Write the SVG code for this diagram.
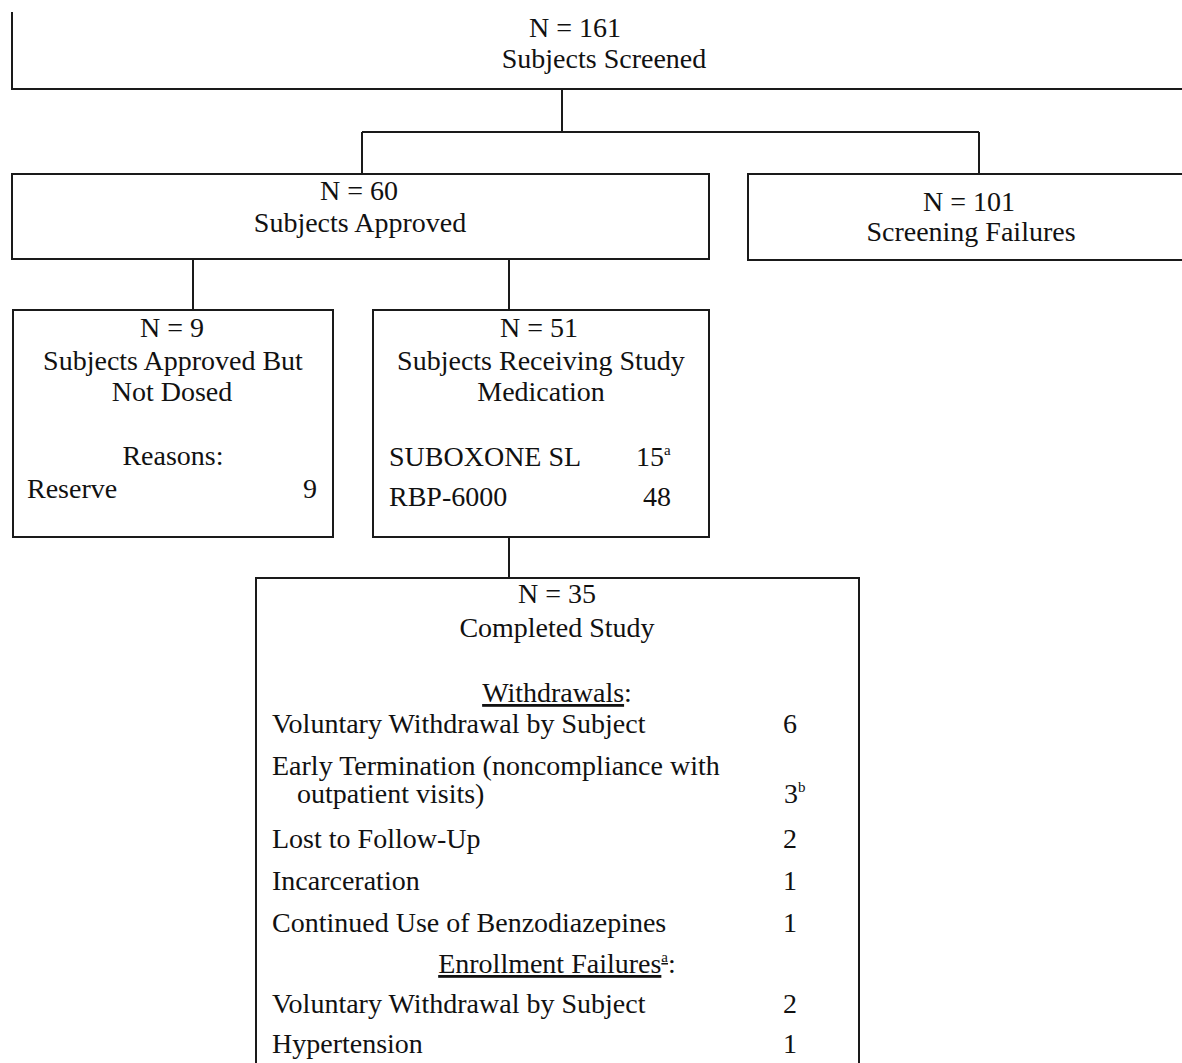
<svg xmlns="http://www.w3.org/2000/svg" width="1182" height="1063" viewBox="0 0 1182 1063">
<style>
.box{fill:none;stroke:#1a1a1a;stroke-width:2}
.ln{fill:none;stroke:#1a1a1a;stroke-width:2}
text{font-family:"Liberation Serif","Times New Roman",serif;font-size:28px;fill:#111}
.c{text-anchor:middle}
.r{text-anchor:end}
.u{text-decoration:underline}
</style>
<rect x="0" y="0" width="1182" height="1063" fill="#ffffff"/>
<g id="screened">
<path class="box" d="M12 12 V89 H1190"/>
<text class="c" x="575" y="37">N = 161</text>
<text class="c" x="604" y="68">Subjects Screened</text>
</g>
<g id="approved">
<rect class="box" x="12" y="174" width="697" height="85"/>
<text class="c" x="359" y="200">N = 60</text>
<text class="c" x="360" y="232">Subjects Approved</text>
</g>
<g id="failures">
<rect class="box" x="748" y="174" width="500" height="86"/>
<text class="c" x="969" y="211">N = 101</text>
<text class="c" x="971" y="241">Screening Failures</text>
</g>
<g id="notdosed">
<rect class="box" x="13" y="310" width="320" height="227"/>
<text class="c" x="172" y="337">N = 9</text>
<text class="c" x="173" y="370">Subjects Approved But</text>
<text class="c" x="172" y="401">Not Dosed</text>
<text class="c" x="173" y="465">Reasons:</text>
<text x="27" y="498">Reserve</text>
<text class="r" x="317" y="498">9</text>
</g>
<g id="receiving">
<rect class="box" x="373" y="310" width="336" height="227"/>
<text class="c" x="539" y="337">N = 51</text>
<text class="c" x="541" y="370">Subjects Receiving Study</text>
<text class="c" x="541" y="401">Medication</text>
<text x="389" y="466">SUBOXONE SL</text>
<text x="636" y="466">15<tspan font-size="15" dy="-11">a</tspan></text>
<text x="389" y="506">RBP-6000</text>
<text x="643" y="506">48</text>
</g>
<g id="completed">
<rect class="box" x="256" y="578" width="603" height="500"/>
<text class="c" x="557" y="603">N = 35</text>
<text class="c" x="557" y="637">Completed Study</text>
<text class="c" x="557" y="702"><tspan class="u">Withdrawals</tspan>:</text>
<text x="272" y="733">Voluntary Withdrawal by Subject</text>
<text class="r" x="797" y="733">6</text>
<text x="272" y="775">Early Termination (noncompliance with</text>
<text x="297" y="803">outpatient visits)</text>
<text x="784" y="803">3<tspan font-size="15" dy="-11">b</tspan></text>
<text x="272" y="848">Lost to Follow-Up</text>
<text class="r" x="797" y="848">2</text>
<text x="272" y="890">Incarceration</text>
<text class="r" x="797" y="890">1</text>
<text x="272" y="932">Continued Use of Benzodiazepines</text>
<text class="r" x="797" y="932">1</text>
<text class="c" x="557" y="973"><tspan class="u">Enrollment Failures<tspan font-size="15" dy="-11">a</tspan></tspan><tspan dy="11">:</tspan></text>
<text x="272" y="1013">Voluntary Withdrawal by Subject</text>
<text class="r" x="797" y="1013">2</text>
<text x="272" y="1053">Hypertension</text>
<text class="r" x="797" y="1053">1</text>
</g>
<g id="connectors">
<path class="ln" d="M562 89 V132"/>
<path class="ln" d="M362 132 H979"/>
<path class="ln" d="M362 132 V174"/>
<path class="ln" d="M979 132 V174"/>
<path class="ln" d="M193 259 V310"/>
<path class="ln" d="M509 259 V310"/>
<path class="ln" d="M509 537 V578"/>
</g>
</svg>
